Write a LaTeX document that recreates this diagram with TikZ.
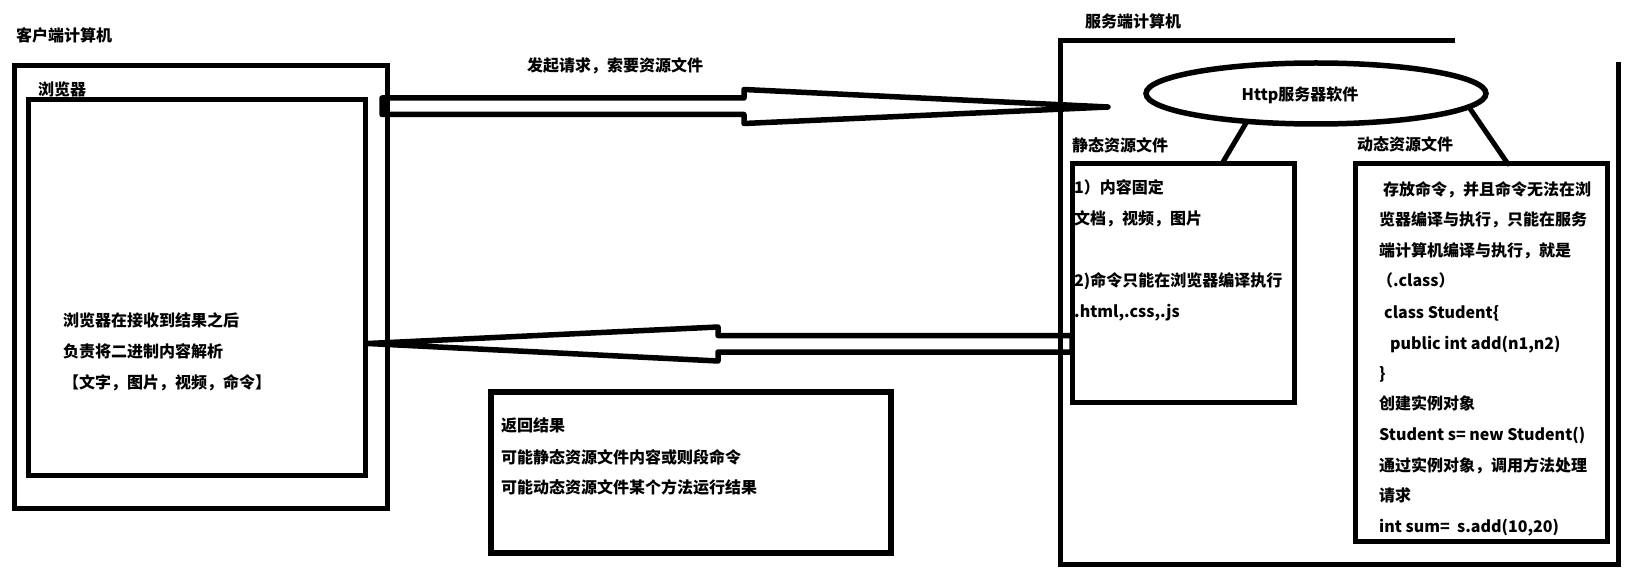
\documentclass[tikz,border=0pt]{standalone}
\usepackage{fontspec}
\setmainfont{Noto Sans CJK SC}
\usetikzlibrary{shapes.geometric,calc}
\tikzset{
  frame/.style={draw=black, line width=5pt, inner sep=0pt, outer sep=0pt},
  rbox/.style={draw=black, line width=6pt, inner sep=0pt, outer sep=0pt},
  txt/.style={inner sep=0pt, anchor=west, text height=14pt, text depth=2pt,
              font=\fontsize{16}{16}\selectfont\bfseries},
  blockarrow/.style={draw=black, line width=5.5pt, line join=round, line cap=round},
  link/.style={draw=black, line width=5pt, line cap=round},
}
\begin{document}
\begin{tikzpicture}[x=1pt, y=-1pt]
\fill[white] (0,0) rectangle (1629,585);
\useasboundingbox (0,0) rectangle (1629,585);

% client side
\node[frame, minimum width=373pt, minimum height=442.5pt] (client) at (201,286.75) {};
\node[frame, minimum width=337pt, minimum height=375.5pt] (browser) at (196.5,287.75) {};
\node[txt] (clientT) at (16,36) {客户端计算机};
\node[txt] (browserT) at (38,90) {浏览器};
\node[txt] (bl1) at (63,320) {浏览器在接收到结果之后};
\node[txt] (bl2) at (63,351) {负责将二进制内容解析};
\node[txt] (bl3) at (63,382) {【文字，图片，视频，命令】};

% server side
\coordinate (sTopEnd) at (1455,41);
\coordinate (sTL) at (1060,41);
\coordinate (sBL) at (1060,564);
\coordinate (sBR) at (1618,564);
\coordinate (sRTop) at (1618,62);
\draw[link, line cap=butt, line join=miter] (sTopEnd) -- (sTL) -- (sBL) -- (sBR) -- (sRTop);
\node[txt] (serverT) at (1085,22) {服务端计算机};

\node[draw=black, line width=5.5pt, ellipse, minimum width=340pt, minimum height=61pt,
      inner sep=0pt, outer sep=0pt] (http) at (1316,93.5) {};
\node[font=\fontsize{16}{16}\selectfont\bfseries, inner sep=0pt] (httpT) at (1300,95) {Http服务器软件};

\node[frame, minimum width=222pt, minimum height=238.5pt] (static) at (1183,282.75) {};
\node[frame, minimum width=252pt, minimum height=377pt] (dynamic) at (1481,352.5) {};
\node[txt] (staticT) at (1072,146) {静态资源文件};
\node[txt] (dynamicT) at (1357,145) {动态资源文件};

\draw[link] (http.202) -- ($(static.north west)!0.676!(static.north east)$);
\draw[link] (http.355) -- ($(dynamic.north west)!0.607!(dynamic.north east)$);

% static file text
\node[txt] (s1) at (1074,188) {1）内容固定};
\node[txt] (s2) at (1074,219) {文档，视频，图片};
\node[txt] (s3) at (1074,280) {2)命令只能在浏览器编译执行};
\node[txt] (s4) at (1074,311) {.html,.css,.js};

% dynamic file text
\node[txt] (d1) at (1383,190) {存放命令，并且命令无法在浏};
\node[txt] (d2) at (1379,220) {览器编译与执行，只能在服务};
\node[txt] (d3) at (1379,250) {端计算机编译与执行，就是};
\node[txt] (d4) at (1377,281) {（.class）};
\node[txt] (d5) at (1384,312) {class Student\{};
\node[txt] (d6) at (1390,343) {public int add(n1,n2)};
\node[txt] (d7) at (1379,373) {\}};
\node[txt] (d8) at (1379,403) {创建实例对象};
\node[txt] (d9) at (1379,434) {Student s= new Student()};
\node[txt] (d10) at (1379,465) {通过实例对象，调用方法处理};
\node[txt] (d11) at (1379,495) {请求};
\node[txt] (d12) at (1379,526) {int sum=\ \ s.add(10,20)};

% return result box
\node[rbox, minimum width=400pt, minimum height=161pt] (ret) at (691,472.5) {};
\node[txt] (r1) at (501,425) {返回结果};
\node[txt] (r2) at (501,457) {可能静态资源文件内容或则段命令};
\node[txt] (r3) at (501,487) {可能动态资源文件某个方法运行结果};

% request arrow (browser -> server)
\node[txt] (reqT) at (527,66) {发起请求，索要资源文件};
\coordinate (reqStart) at (382,106.25);
\coordinate (reqTip) at (1108,107);
\draw[blockarrow] ($(reqStart)+(0,-8.25)$) -- (744,98) -- (744,89.5) -- (reqTip)
  -- (744,123.5) -- (744,114.5) -- ($(reqStart)+(0,8.25)$) -- cycle;

% response arrow (server -> browser)
\coordinate (resStart) at (1072,343.75);
\coordinate (resTip) at (368,343.5);
\draw[blockarrow] ($(resStart)+(0,-8.25)$) -- (718,335.5) -- (718,327) -- (resTip)
  -- (718,361) -- (718,352) -- ($(resStart)+(0,8.25)$) -- cycle;
\end{tikzpicture}
\end{document}
